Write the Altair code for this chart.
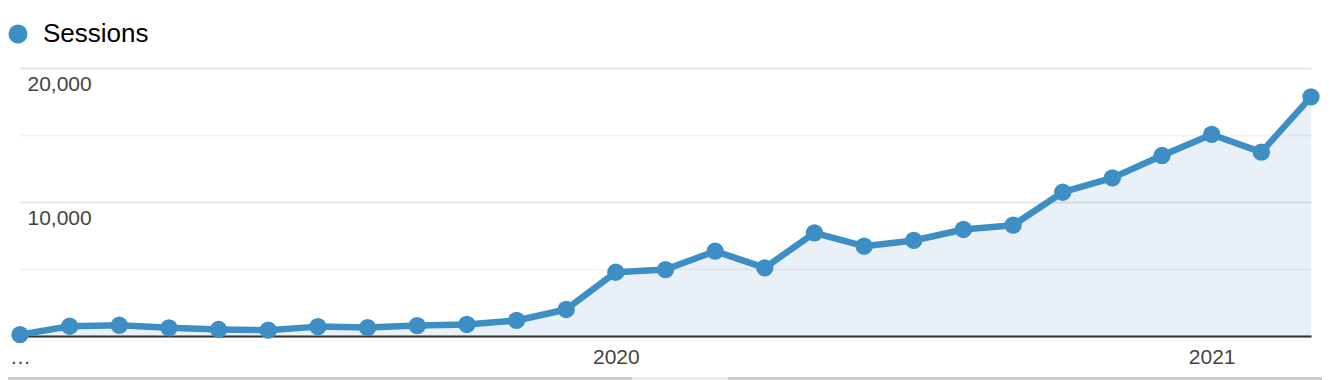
import altair as alt
import pandas as pd

months = ["2019-01", "2019-02", "2019-03", "2019-04", "2019-05", "2019-06",
          "2019-07", "2019-08", "2019-09", "2019-10", "2019-11", "2019-12",
          "2020-01", "2020-02", "2020-03", "2020-04", "2020-05", "2020-06",
          "2020-07", "2020-08", "2020-09", "2020-10", "2020-11", "2020-12",
          "2021-01", "2021-02", "2021-03"]
sessions = [100, 730, 800, 610, 485, 435, 700, 630, 780, 860, 1160, 1980,
            4760, 4960, 6330, 5090, 7700, 6700, 7130, 7950, 8270, 10730,
            11800, 13470, 15040, 13720, 17850]
series_name = "Sessions"
x_tick_values = ["2019-01", "2020-01", "2021-01"]
y_grid_values = [0, 5000, 10000, 15000, 20000]

df = pd.DataFrame({"month": months, "sessions": sessions, "series": series_name})

LINE = "#3d8ec4"
FONT = "Liberation Sans"

x_enc = alt.X(
    "month:O",
    scale=alt.Scale(type="point", padding=0),
    axis=alt.Axis(
        values=x_tick_values,
        labelExpr="datum.value == '2019-01' ? '…' : substring(datum.value, 0, 4)",
        title=None, ticks=False, grid=False, labelAngle=0,
        domainColor="#333333", domainWidth=2,
        labelFontSize=21, labelColor="#444444", labelFont=FONT,
        labelPadding=21, labelBaseline="middle", labelFlush=False,
        labelOverlap=False,
    ),
)
y_enc = alt.Y(
    "sessions:Q",
    scale=alt.Scale(domain=[0, 20000], nice=False),
    axis=alt.Axis(
        values=y_grid_values,
        labelExpr="datum.value > 0 && datum.value % 10000 == 0 ? format(datum.value, ',') : ''",
        title=None, ticks=False, domain=False,
        grid=True,
        gridColor=alt.condition("datum.value % 10000 === 0", alt.value("#e6e6e6"), alt.value("#f3f3f3")),
        gridWidth=2,
        labelAlign="left", labelPadding=-7, labelBaseline="middle", labelOffset=16,
        labelFontSize=21, labelColor="#444444", labelFont=FONT,
        labelFlush=False, labelOverlap=False,
    ),
)

base = alt.Chart(df)

area = base.mark_area(color="#2f6fb0", opacity=0.1).encode(x=x_enc, y=y_enc)
line = base.mark_line(color=LINE, strokeWidth=6.5, strokeJoin="round").encode(x=x_enc, y=y_enc)
points = base.mark_circle(size=300, opacity=1).encode(
    x=x_enc, y=y_enc,
    color=alt.Color(
        "series:N",
        scale=alt.Scale(range=[LINE]),
        legend=alt.Legend(
            title=None, orient="none", legendX=-15, legendY=-47,
            symbolType="circle", symbolSize=361, symbolStrokeWidth=0, symbolOpacity=1,
            labelFontSize=26, labelColor="#000000", labelFont=FONT, labelOffset=12,
            padding=0,
        ),
    ),
)

bar_bg = alt.Chart(df).mark_rule(color="#cdcdcd", strokeWidth=3).encode(
    x=alt.value(-12), x2=alt.value(1302), y=alt.value(310.5)
)
bar_thumb = alt.Chart(df).mark_rule(color="#ececec", strokeWidth=3).encode(
    x=alt.value(612), x2=alt.value(708), y=alt.value(310.5)
)

chart = alt.layer(area, line, points, bar_bg, bar_thumb).properties(
    width=1291, height=268,
    autosize=alt.AutoSizeParams(type="none"),
    padding={"left": 12, "top": 60, "right": 11, "bottom": 60},
).configure(background="white").configure_view(stroke=None)

chart.save("out.html", embed_options={"renderer": "svg", "actions": False})
